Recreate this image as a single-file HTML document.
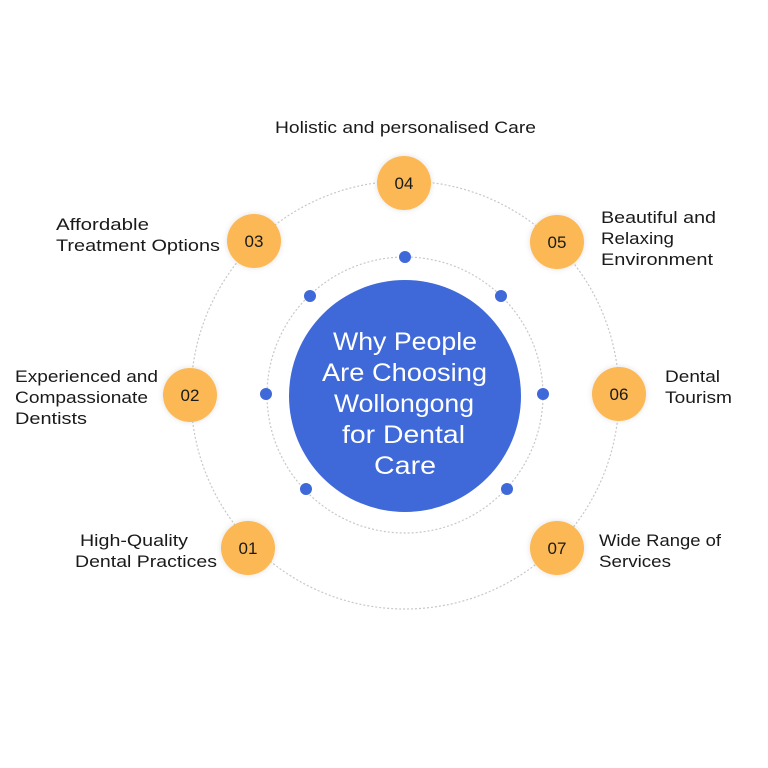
<!DOCTYPE html>
<html><head><style>
html,body{margin:0;padding:0;background:#fff;}
svg{display:block;}
.t{font-family:"Liberation Sans",sans-serif;font-size:17px;fill:#1a1a1a;}
.n{font-family:"Liberation Sans",sans-serif;font-size:17px;fill:#1a1a1a;text-anchor:middle;}
.c{font-family:"Liberation Sans",sans-serif;font-size:25px;fill:#fff;}
</style></head><body>
<svg width="768" height="768" viewBox="0 0 768 768">
<defs><filter id="s" x="-30%" y="-30%" width="160%" height="160%"><feDropShadow dx="0" dy="0" stdDeviation="3" flood-color="#000" flood-opacity="0.12"/></filter></defs>
<circle cx="405" cy="395" r="214" fill="none" stroke="#c8c8c8" stroke-width="1.2" stroke-dasharray="2 2"/>
<circle cx="405" cy="395" r="138" fill="none" stroke="#c8c8c8" stroke-width="1.2" stroke-dasharray="2 2"/>
<circle cx="405" cy="396" r="116" fill="#3F69D9"/>
<g fill="#3F69D9">
<circle cx="405" cy="257" r="6"/><circle cx="501" cy="296" r="6"/><circle cx="543" cy="394" r="6"/><circle cx="507" cy="489" r="6"/>
<circle cx="306" cy="489" r="6"/><circle cx="266" cy="394" r="6"/><circle cx="310" cy="296" r="6"/>
</g>
<g lengthAdjust="spacingAndGlyphs">
<text class="c" x="333" y="350" textLength="144" lengthAdjust="spacingAndGlyphs">Why People</text>
<text class="c" x="322" y="381" textLength="165" lengthAdjust="spacingAndGlyphs">Are Choosing</text>
<text class="c" x="334" y="412" textLength="140" lengthAdjust="spacingAndGlyphs">Wollongong</text>
<text class="c" x="342" y="443" textLength="123" lengthAdjust="spacingAndGlyphs">for Dental</text>
<text class="c" x="374" y="474" textLength="62" lengthAdjust="spacingAndGlyphs">Care</text>
</g>
<g fill="#FBB855" filter="url(#s)">
<circle cx="248" cy="548" r="27"/><circle cx="190" cy="395" r="27"/><circle cx="254" cy="241" r="27"/>
<circle cx="404" cy="183" r="27"/><circle cx="557" cy="242" r="27"/><circle cx="619" cy="394" r="27"/><circle cx="557" cy="548" r="27"/>
</g>
<text class="n" x="248" y="554">01</text><text class="n" x="190" y="401">02</text><text class="n" x="254" y="247">03</text>
<text class="n" x="404" y="189">04</text><text class="n" x="557" y="248">05</text><text class="n" x="619" y="400">06</text><text class="n" x="557" y="554">07</text>
<text class="t" x="275" y="133" textLength="261" lengthAdjust="spacingAndGlyphs">Holistic and personalised Care</text>
<text class="t" x="56" y="230" textLength="93" lengthAdjust="spacingAndGlyphs">Affordable</text>
<text class="t" x="56" y="251" textLength="164" lengthAdjust="spacingAndGlyphs">Treatment Options</text>
<text class="t" x="15" y="382" textLength="143" lengthAdjust="spacingAndGlyphs">Experienced and</text>
<text class="t" x="15" y="403" textLength="133" lengthAdjust="spacingAndGlyphs">Compassionate</text>
<text class="t" x="15" y="424" textLength="72" lengthAdjust="spacingAndGlyphs">Dentists</text>
<text class="t" x="80" y="546" textLength="108" lengthAdjust="spacingAndGlyphs">High-Quality</text>
<text class="t" x="75" y="567" textLength="142" lengthAdjust="spacingAndGlyphs">Dental Practices</text>
<text class="t" x="601" y="223" textLength="115" lengthAdjust="spacingAndGlyphs">Beautiful and</text>
<text class="t" x="601" y="244" textLength="73" lengthAdjust="spacingAndGlyphs">Relaxing</text>
<text class="t" x="601" y="265" textLength="112" lengthAdjust="spacingAndGlyphs">Environment</text>
<text class="t" x="665" y="382" textLength="55" lengthAdjust="spacingAndGlyphs">Dental</text>
<text class="t" x="665" y="403" textLength="67" lengthAdjust="spacingAndGlyphs">Tourism</text>
<text class="t" x="599" y="546" textLength="122" lengthAdjust="spacingAndGlyphs">Wide Range of</text>
<text class="t" x="599" y="567" textLength="72" lengthAdjust="spacingAndGlyphs">Services</text>
</svg>
</body></html>
